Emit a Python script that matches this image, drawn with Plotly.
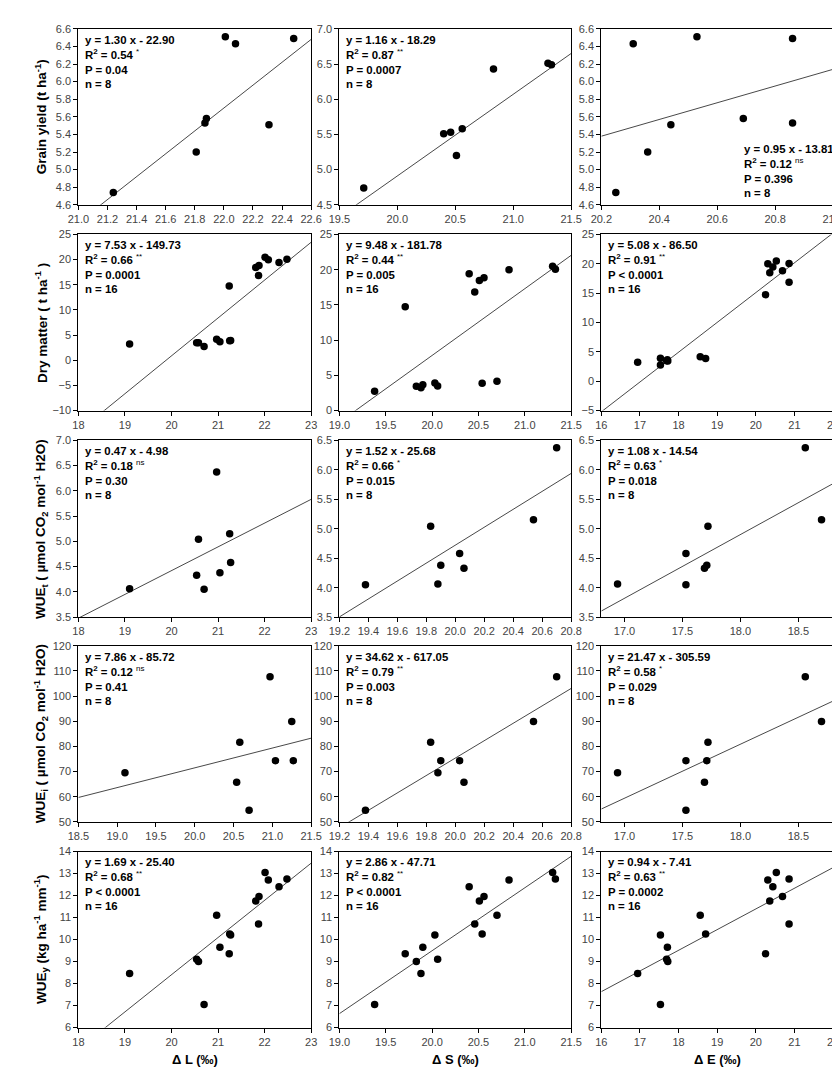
import numpy as np
import plotly.graph_objects as go

# ---------------- data ----------------
# Season A (8 samples, low dry matter)
dL_A = [20.70, 20.58, 19.10, 21.04, 21.27, 20.54, 21.25, 20.97]
dS_A = [19.38, 19.83, 19.88, 19.90, 20.03, 20.06, 20.54, 20.70]
dE_A = [17.53, 17.72, 16.94, 17.71, 17.53, 17.69, 18.70, 18.56]
wuet_A = [4.05, 5.04, 4.06, 4.38, 4.58, 4.33, 5.15, 6.37]
wuei_A = [54.6, 81.7, 69.5, 74.3, 74.3, 65.7, 89.9, 107.7]
dm_A = [2.75, 3.45, 3.22, 3.65, 3.90, 3.47, 3.88, 4.15]
wuey_A = [7.05, 9.00, 8.45, 9.65, 10.20, 9.10, 10.25, 11.10]

# Season B (8 samples, high dry matter)
dL_B = [21.24, 22.31, 21.87, 21.81, 21.88, 22.08, 22.01, 22.48]
dS_B = [19.71, 20.40, 20.46, 20.51, 20.56, 20.83, 21.30, 21.33]
dE_B = [20.25, 20.44, 20.86, 20.36, 20.69, 20.31, 20.53, 20.86]
gy_B = [4.74, 5.51, 5.53, 5.20, 5.58, 6.43, 6.51, 6.49]
dm_B = [14.75, 19.44, 16.84, 18.46, 18.84, 20.00, 20.50, 20.07]
wuey_B = [9.35, 12.40, 10.70, 11.75, 11.95, 12.70, 13.05, 12.75]

# regression statistics per panel (row-major)
slopes = [1.30, 1.16, 0.95, 7.53, 9.48, 5.08, 0.47, 1.52, 1.08, 7.86, 34.62, 21.47, 1.69, 2.86, 0.94]
intercepts = [-22.90, -18.29, -13.81, -149.73, -181.78, -86.50, -4.98, -25.68, -14.54,
              -85.72, -617.05, -305.59, -25.40, -47.71, -7.41]
r2_text = ["0.54", "0.87", "0.12", "0.66", "0.44", "0.91", "0.18", "0.66", "0.63",
           "0.12", "0.79", "0.58", "0.68", "0.82", "0.63"]
sig_text = ["*", "**", "ns", "**", "**", "**", "ns", "*", "*", "ns", "**", "*", "**", "**", "**"]
p_text = ["P = 0.04", "P = 0.0007", "P = 0.396", "P = 0.0001", "P = 0.005", "P < 0.0001",
          "P = 0.30", "P = 0.015", "P = 0.018", "P = 0.41", "P = 0.003", "P = 0.029",
          "P < 0.0001", "P < 0.0001", "P = 0.0002"]
n_text = ["8", "8", "8", "16", "16", "16", "8", "8", "8", "8", "8", "8", "16", "16", "16"]

row_titles = [
    "<b>Grain yield (t ha<sup>-1</sup>)</b>",
    "<b>Dry matter ( t ha<sup>-1</sup> )</b>",
    "<b>WUE<sub>t</sub> ( µmol CO<sub>2</sub> mol<sup>-1</sup> H2O)</b>",
    "<b>WUE<sub>i</sub> ( µmol CO<sub>2</sub> mol<sup>-1</sup> H2O)</b>",
    "<b>WUE<sub>y</sub> (kg ha<sup>-1</sup> mm<sup>-1</sup>)</b>",
]
col_titles = ["<b>Δ L (‰)</b>", "<b>Δ S (‰)</b>", "<b>Δ E (‰)</b>"]

# panel data
panel_x = [dL_B, dS_B, dE_B,
           dL_A + dL_B, dS_A + dS_B, dE_A + dE_B,
           dL_A, dS_A, dE_A,
           dL_A, dS_A, dE_A,
           dL_A + dL_B, dS_A + dS_B, dE_A + dE_B]
panel_y = [gy_B, gy_B, gy_B,
           dm_A + dm_B, dm_A + dm_B, dm_A + dm_B,
           wuet_A, wuet_A, wuet_A,
           wuei_A, wuei_A, wuei_A,
           wuey_A + wuey_B, wuey_A + wuey_B, wuey_A + wuey_B]

# axis settings: (range, tick0, dtick, format)
x_axes = [([21.0, 22.6], 21.0, 0.2, ".1f"), ([19.5, 21.5], 19.5, 0.5, ".1f"), ([20.2, 21.0], 20.2, 0.2, ".1f"),
          ([18, 23], 18, 1, "d"), ([19.0, 21.5], 19.0, 0.5, ".1f"), ([16, 22], 16, 1, "d"),
          ([18, 23], 18, 1, "d"), ([19.2, 20.8], 19.2, 0.2, ".1f"), ([16.8, 18.8], 17.0, 0.5, ".1f"),
          ([18.5, 21.5], 18.5, 0.5, ".1f"), ([19.2, 20.8], 19.2, 0.2, ".1f"), ([16.8, 18.8], 17.0, 0.5, ".1f"),
          ([18, 23], 18, 1, "d"), ([19.0, 21.5], 19.0, 0.5, ".1f"), ([16, 22], 16, 1, "d")]
y_axes = [([4.6, 6.6], 4.6, 0.2, ".1f"), ([4.5, 7.0], 4.5, 0.5, ".1f"), ([4.6, 6.6], 4.6, 0.2, ".1f"),
          ([-10, 25], -10, 5, "d"), ([0, 25], 0, 5, "d"), ([-5, 25], -5, 5, "d"),
          ([3.5, 7.0], 3.5, 0.5, ".1f"), ([3.5, 6.5], 3.5, 0.5, ".1f"), ([3.5, 6.5], 3.5, 0.5, ".1f"),
          ([50, 120], 50, 10, "d"), ([50, 120], 50, 10, "d"), ([50, 120], 50, 10, "d"),
          ([6, 14], 6, 1, "d"), ([6, 14], 6, 1, "d"), ([6, 14], 6, 1, "d")]

# ---------------- layout geometry ----------------
W, H = 840, 1070
col_px = [(61, 300), (329, 567), (598, 836)]
row_px = [(15, 193), (223, 401), (431, 610), (639, 817), (847, 1025)]

FONT = "Liberation Sans, Arial, sans-serif"
fig = go.Figure()
layout = dict(width=W, height=H, margin=dict(l=0, r=0, t=0, b=0),
              plot_bgcolor="white", paper_bgcolor="white", showlegend=False)
annotations = []

for i in range(15):
    r, c = divmod(i, 3)
    k = i + 1
    xa = "xaxis" if k == 1 else f"xaxis{k}"
    ya = "yaxis" if k == 1 else f"yaxis{k}"
    xref = "x" if k == 1 else f"x{k}"
    yref = "y" if k == 1 else f"y{k}"
    x0, x1 = col_px[c]
    t0, t1 = row_px[r]
    xr, xt0, xdt, xf = x_axes[i]
    yr, yt0, ydt, yf = y_axes[i]
    common = dict(showline=True, mirror=True, linecolor="black", linewidth=1.2,
                  ticks="outside", ticklen=4, tickwidth=1, tickcolor="black",
                  showgrid=False, zeroline=False,
                  tickfont=dict(family=FONT, size=11, color="#444"))
    layout[xa] = dict(domain=[x0 / W, x1 / W], range=xr, tick0=xt0, dtick=xdt,
                      tickformat=xf, anchor=yref, **common)
    layout[ya] = dict(domain=[1 - t1 / H, 1 - t0 / H], range=yr, tick0=yt0, dtick=ydt,
                      tickformat=yf, anchor=xref, **common)

    # regression line from the stated equation
    lx = np.array(xr, dtype=float)
    ly = slopes[i] * lx + intercepts[i]
    fig.add_trace(go.Scatter(x=lx, y=ly, mode="lines", xaxis=xref, yaxis=yref,
                             line=dict(color="#333", width=0.9), hoverinfo="skip"))
    fig.add_trace(go.Scatter(x=panel_x[i], y=panel_y[i], mode="markers", xaxis=xref, yaxis=yref,
                             marker=dict(color="black", size=7.5)))

    sign = "-" if intercepts[i] < 0 else "+"
    eq = f"y = {slopes[i]:.2f} x {sign} {abs(intercepts[i]):.2f}"
    txt = (f"<b>{eq}</b><br><b>R<sup>2</sup> = {r2_text[i]} </b><sup>{sig_text[i]}</sup>"
           f"<br><b>{p_text[i]}</b><br><b>n = {n_text[i]}</b>")
    if i == 2:
        ax, ay = 742, 128
    else:
        ax, ay = x0 + 5, t0 + 3
    annotations.append(dict(x=ax / W, y=1 - ay / H, xref="paper", yref="paper",
                            xanchor="left", yanchor="top", align="left", showarrow=False,
                            text=txt, font=dict(family=FONT, size=11.4, color="black")))

for r in range(5):
    t0, t1 = row_px[r]
    annotations.append(dict(x=22 / W, y=1 - (t0 + t1) / 2 / H, xref="paper", yref="paper",
                            xanchor="center", yanchor="middle", textangle=-90, showarrow=False,
                            text=row_titles[r], font=dict(family=FONT, size=13.5, color="black")))
for c in range(3):
    x0, x1 = col_px[c]
    annotations.append(dict(x=(x0 + x1) / 2 / W, y=1 - 1057 / H, xref="paper", yref="paper",
                            xanchor="center", yanchor="middle", showarrow=False,
                            text=col_titles[c], font=dict(family=FONT, size=13, color="black")))

layout["annotations"] = annotations
fig.update_layout(**layout)
fig.write_html("out.html")
